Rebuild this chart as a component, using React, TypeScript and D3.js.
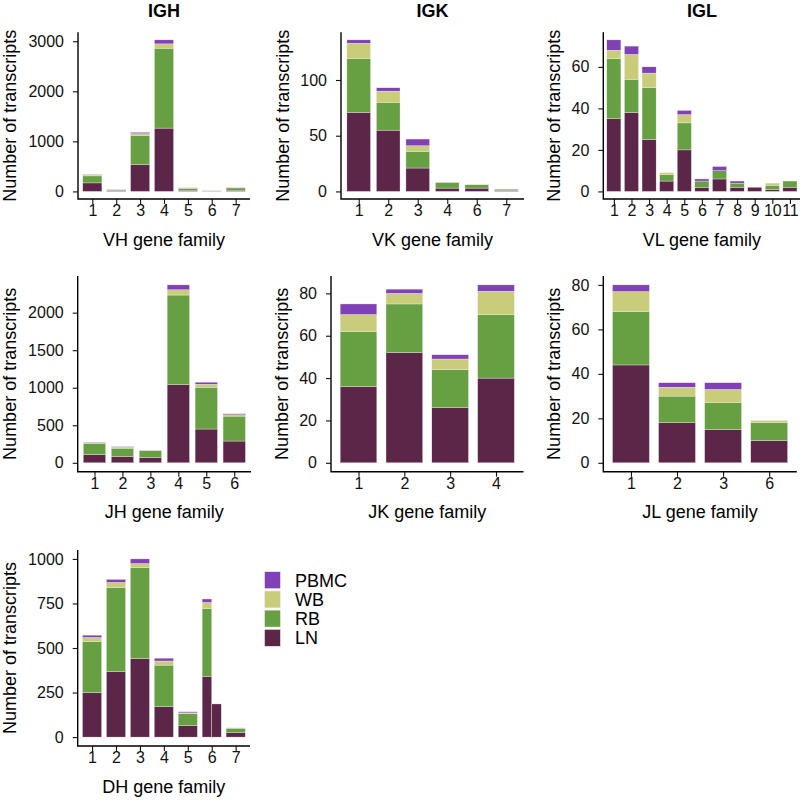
import React, { useRef, useEffect } from 'react'
import * as d3 from 'd3'

const tissues = ['LN', 'RB', 'WB', 'PBMC']
const tissueColors = ['#5c2649', '#67a042', '#c9cd79', '#8041b7']
const legendOrder = ['PBMC', 'WB', 'RB', 'LN']

// IGH - VH
const vhFamilies = ['1', '2', '3', '4', '5', '6', '7']
const vhLN = [170, 15, 540, 1265, 25, 3, 25]
const vhRB = [140, 20, 580, 1595, 40, 10, 45]
const vhWB = [20, 3, 35, 87, 5, 2, 3]
const vhPBMC = [10, 2, 25, 80, 3, 0, 2]
const vhTicks = [0, 1000, 2000, 3000]

// IGK - VK
const vkFamilies = ['1', '2', '3', '4', '6', '7']
const vkLN = [71, 55, 21, 3, 3, 1]
const vkRB = [48, 25, 15, 5, 3, 1]
const vkWB = [14, 10, 5, 0, 0, 0]
const vkPBMC = [3, 3, 6, 0, 0, 0]
const vkTicks = [0, 50, 100]

// IGL - VL
const vlFamilies = ['1', '2', '3', '4', '5', '6', '7', '8', '9', '10', '11']
const vlLN = [35, 38, 25, 5, 20, 2, 6, 2, 2, 1, 2]
const vlRB = [29, 16, 25, 3, 13, 3, 4, 2, 0, 2, 3]
const vlWB = [4, 12, 7, 1, 4, 0, 0, 0, 0, 1, 0]
const vlPBMC = [5, 4, 3, 0, 2, 1, 2, 1, 0, 0, 0]
const vlTicks = [0, 20, 40, 60]

// JH
const jhFamilies = ['1', '2', '3', '4', '5', '6']
const jhLN = [110, 85, 70, 1040, 450, 290]
const jhRB = [150, 110, 93, 1195, 557, 332]
const jhWB = [8, 12, 3, 70, 40, 18]
const jhPBMC = [5, 8, 2, 65, 27, 13]
const jhTicks = [0, 500, 1000, 1500, 2000]

// JK
const jkFamilies = ['1', '2', '3', '4']
const jkLN = [36, 52, 26, 40]
const jkRB = [26, 23, 18, 30]
const jkWB = [8, 5, 5, 11]
const jkPBMC = [5, 2, 2, 3]
const jkTicks = [0, 20, 40, 60, 80]

// JL
const jlFamilies = ['1', '2', '3', '6']
const jlLN = [44, 18, 15, 10]
const jlRB = [24, 12, 12, 8]
const jlWB = [9, 4, 6, 1]
const jlPBMC = [3, 2, 3, 0]
const jlTicks = [0, 20, 40, 60, 80]

// DH (family 6 shows up as two dodged bars)
const dhFamilies = ['1', '2', '3', '4', '5', '6', '7']
const dhBarFamily = ['1', '2', '3', '4', '5', '6', '6', '7']
const dhLN = [250, 367, 441, 171, 64, 341, 186, 24]
const dhRB = [286, 471, 509, 233, 67, 381, 0, 26]
const dhWB = [23, 30, 24, 23, 5, 34, 0, 2]
const dhPBMC = [13, 17, 26, 16, 6, 19, 0, 0]
const dhTicks = [0, 250, 500, 750, 1000]

const panels = [
  { title: 'IGH', xTitle: 'VH gene family', families: vhFamilies, bars: vhFamilies, series: [vhLN, vhRB, vhWB, vhPBMC], ticks: vhTicks,
    left: 78, right: 250, top: 32.3, bottom: 199, yTitleX: 15.5 },
  { title: 'IGK', xTitle: 'VK gene family', families: vkFamilies, bars: vkFamilies, series: [vkLN, vkRB, vkWB, vkPBMC], ticks: vkTicks,
    left: 341, right: 524, top: 32.3, bottom: 199, yTitleX: 289 },
  { title: 'IGL', xTitle: 'VL gene family', families: vlFamilies, bars: vlFamilies, series: [vlLN, vlRB, vlWB, vlPBMC], ticks: vlTicks,
    left: 603.3, right: 800.5, top: 32.3, bottom: 199, yTitleX: 560 },
  { title: '', xTitle: 'JH gene family', families: jhFamilies, bars: jhFamilies, series: [jhLN, jhRB, jhWB, jhPBMC], ticks: jhTicks,
    left: 77.7, right: 251, top: 276, bottom: 471.7, yTitleX: 15.5 },
  { title: '', xTitle: 'JK gene family', families: jkFamilies, bars: jkFamilies, series: [jkLN, jkRB, jkWB, jkPBMC], ticks: jkTicks,
    left: 331, right: 523.5, top: 276, bottom: 471.7, yTitleX: 288 },
  { title: '', xTitle: 'JL gene family', families: jlFamilies, bars: jlFamilies, series: [jlLN, jlRB, jlWB, jlPBMC], ticks: jlTicks,
    left: 603.3, right: 796.8, top: 276, bottom: 471.7, yTitleX: 560 },
  { title: '', xTitle: 'DH gene family', families: dhFamilies, bars: dhBarFamily, series: [dhLN, dhRB, dhWB, dhPBMC], ticks: dhTicks,
    left: 77.7, right: 250, top: 550, bottom: 746, yTitleX: 15.5 }
]

const font = '"Liberation Sans", Arial, Helvetica, sans-serif'

function drawPanel(g: any, p: any) {
  const x = d3.scalePoint<string>().domain(p.families).range([p.left, p.right]).padding(0.6)
  const rows = p.bars.map((f: string, i: number) => {
    const r: any = { family: f }
    tissues.forEach((t, k) => { r[t] = p.series[k][i] })
    return r
  })
  const maxTotal = d3.max(rows, (r: any) => d3.sum(tissues, t => r[t])) as number
  const y = d3.scaleLinear().domain([-0.05 * maxTotal, 1.05 * maxTotal]).range([p.bottom, p.top])
  const barW = x.step() * 0.8

  // dodge bars that share a family
  const slot = rows.map((r: any, i: number) => {
    const group = rows.map((q: any, j: number) => (q.family === r.family ? j : -1)).filter((j: number) => j >= 0)
    return { k: group.indexOf(i), n: group.length }
  })

  const stacked = d3.stack().keys(tissues)(rows)
  stacked.forEach((layer: any, li: number) => {
    g.append('g')
      .selectAll('rect')
      .data(layer)
      .join('rect')
      .filter((d: any) => d[1] - d[0] > 0)
      .attr('x', (d: any) => (x(d.data.family) as number) - barW / 2 + slot[layer.indexOf(d)].k * barW / slot[layer.indexOf(d)].n)
      .attr('width', (d: any) => barW / slot[layer.indexOf(d)].n)
      .attr('y', (d: any) => y(d[1]))
      .attr('height', (d: any) => y(d[0]) - y(d[1]))
      .attr('fill', tissueColors[li])
      .attr('stroke', '#f4eef2')
      .attr('stroke-width', 0.35)
  })

  const yAxis = g.append('g')
    .attr('transform', `translate(${p.left},0)`)
    .call(d3.axisLeft(y).tickValues(p.ticks).tickSize(5).tickPadding(9).tickFormat(d3.format('d')))
  yAxis.select('.domain').remove()
  yAxis.selectAll('text').attr('font-size', 16).attr('font-family', font).attr('fill', '#111')
  yAxis.selectAll('line').attr('stroke', '#111').attr('stroke-width', 1.1)

  const xAxis = g.append('g')
    .attr('transform', `translate(0,${p.bottom})`)
    .call(d3.axisBottom(x).tickSize(5).tickPadding(1))
  xAxis.select('.domain').remove()
  xAxis.selectAll('text').attr('font-size', 16).attr('font-family', font).attr('fill', '#111')
  xAxis.selectAll('line').attr('stroke', '#111').attr('stroke-width', 1.1)

  g.append('path')
    .attr('d', `M${p.left},${p.top}V${p.bottom}H${p.right}`)
    .attr('fill', 'none')
    .attr('stroke', '#000')
    .attr('stroke-width', 1.4)

  if (p.title) {
    g.append('text')
      .attr('x', (p.left + p.right) / 2)
      .attr('y', 16.5)
      .attr('text-anchor', 'middle')
      .attr('font-family', font)
      .attr('font-weight', 'bold')
      .attr('font-size', 18)
      .text(p.title)
  }

  g.append('text')
    .attr('x', (p.left + p.right) / 2)
    .attr('y', p.bottom + 46.6)
    .attr('text-anchor', 'middle')
    .attr('font-family', font)
    .attr('font-size', 18)
    .text(p.xTitle)

  g.append('text')
    .attr('transform', `translate(${p.yTitleX},${(p.top + p.bottom) / 2}) rotate(-90)`)
    .attr('text-anchor', 'middle')
    .attr('font-family', font)
    .attr('font-size', 18)
    .text('Number of transcripts')
}

function Legend() {
  return (
    <g>
      {legendOrder.map((t, i) => (
        <g key={t} transform={`translate(264.5,${571.7 + i * 19.2})`}>
          <rect width={16} height={17} fill={tissueColors[tissues.indexOf(t)]} stroke="#f4eef2" strokeWidth={0.6} />
          <text x={30.5} y={15} fontFamily={font} fontSize={18}>{t}</text>
        </g>
      ))}
    </g>
  )
}

export default function App() {
  const container = useRef<SVGGElement>(null)

  useEffect(() => {
    const root = d3.select(container.current)
    root.selectAll('*').remove()
    panels.forEach(p => drawPanel(root.append('g'), p))
  }, [])

  return (
    <svg width={800} height={800} style={{ position: 'absolute', left: 0, top: 0, background: '#fff' }}>
      <g ref={container} />
      <Legend />
    </svg>
  )
}
